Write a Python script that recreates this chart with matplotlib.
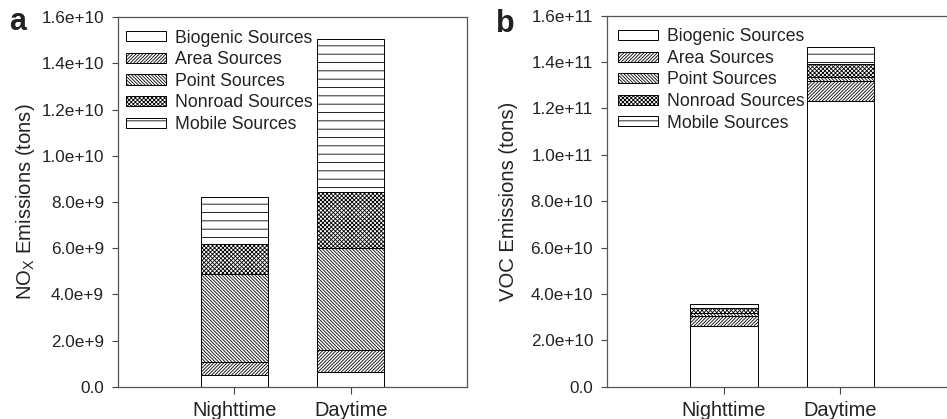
import matplotlib
matplotlib.use("Agg")
import matplotlib.pyplot as plt
from matplotlib.ticker import FuncFormatter, FixedLocator
import numpy as np

plt.rcParams['font.family'] = ['Liberation Sans', 'DejaVu Sans']
plt.rcParams['mathtext.fontset'] = 'custom'
plt.rcParams['mathtext.rm'] = 'Liberation Sans'
plt.rcParams['mathtext.it'] = 'Liberation Sans:italic'
plt.rcParams['hatch.linewidth'] = 0.6

# ---- data ----
periods = ["Nighttime", "Daytime"]
sources = ["Biogenic Sources", "Area Sources", "Point Sources",
           "Nonroad Sources", "Mobile Sources"]
hatches = ["", "/" * 10, "\\" * 10, "x" * 8, "--"]

# NOx emissions (tons), per source, [Nighttime, Daytime]
nox_biogenic = [0.52e9, 0.65e9]
nox_area = [0.56e9, 0.93e9]
nox_point = [3.81e9, 4.41e9]
nox_nonroad = [1.28e9, 2.43e9]
nox_mobile = [2.05e9, 6.64e9]

# VOC emissions (tons), per source, [Nighttime, Daytime]
voc_biogenic = [2.63e10, 12.31e10]
voc_area = [0.42e10, 0.89e10]
voc_point = [0.13e10, 0.17e10]
voc_nonroad = [0.20e10, 0.53e10]
voc_mobile = [0.19e10, 0.76e10]

nox_ticks = [0, 2e9, 4e9, 6e9, 8e9, 1.0e10, 1.2e10, 1.4e10, 1.6e10]
voc_ticks = [0, 2e10, 4e10, 6e10, 8e10, 1.0e11, 1.2e11, 1.4e11, 1.6e11]

TXT = '#222222'


def sci_fmt(v, pos):
    if v == 0:
        return "0.0"
    e = int(np.floor(np.log10(abs(v)) + 1e-9))
    m = v / 10 ** e
    return f"{m:.1f}e+{e}"


fig = plt.figure(figsize=(9.47, 4.19), dpi=100)
ax1 = fig.add_axes([0.1246, 0.0764, 0.3685, 0.883])
ax2 = fig.add_axes([0.641, 0.0772, 0.3696, 0.8853])


def draw(ax, series, ticks, ylabel, leg_x, leg_y, ylab_x):
    x = np.arange(1, len(periods) + 1)
    bottom = np.zeros(len(periods))
    handles = []
    for name, vals, h in zip(sources, series, hatches):
        b = ax.bar(x, vals, width=0.58, bottom=bottom, color='white',
                   edgecolor='black', linewidth=0.7, hatch=h, label=name)
        handles.append(b)
        bottom = bottom + np.array(vals)
    ax.set_xlim(0, 3)
    ax.set_ylim(0, ticks[-1])
    ax.yaxis.set_major_locator(FixedLocator(ticks))
    ax.yaxis.set_major_formatter(FuncFormatter(sci_fmt))
    ax.set_xticks(x)
    ax.set_xticklabels(periods, fontsize=14.4, color=TXT)
    ax.tick_params(axis='y', labelsize=12.3, colors='#444444', labelcolor=TXT,
                   length=4, width=0.8, pad=6, direction='out')
    ax.tick_params(axis='x', colors='#444444', labelcolor=TXT,
                   length=5, width=0.8, pad=5, direction='out')
    for s in ax.spines.values():
        s.set_color('#555555')
        s.set_linewidth(0.9)
    ax.set_ylabel(ylabel, fontsize=14.6, color=TXT)
    ax.yaxis.set_label_coords(ylab_x, 0.5)
    leg = ax.legend(handles=handles, labels=sources, loc='upper left',
                    bbox_to_anchor=(leg_x, leg_y), frameon=False,
                    fontsize=12.7, handlelength=2.27, handleheight=0.5,
                    handletextpad=0.55, labelspacing=0.26, borderaxespad=0.0,
                    borderpad=0.0)
    for t in leg.get_texts():
        t.set_color(TXT)
    return ax


draw(ax1, [nox_biogenic, nox_area, nox_point, nox_nonroad, nox_mobile],
     nox_ticks, r'NO$_\mathrm{X}$ Emissions (tons)', 0.022, 0.966, -0.232)
draw(ax2, [voc_biogenic, voc_area, voc_point, voc_nonroad, voc_mobile],
     voc_ticks, 'VOC Emissions (tons)', 0.03, 0.966, -0.255)

fig.text(0.010, 0.948, 'a', fontsize=22, fontweight='bold', color=TXT,
         va='center', ha='left')
fig.text(0.524, 0.943, 'b', fontsize=22, fontweight='bold', color=TXT,
         va='center', ha='left')

fig.savefig('out.png', dpi=100)
